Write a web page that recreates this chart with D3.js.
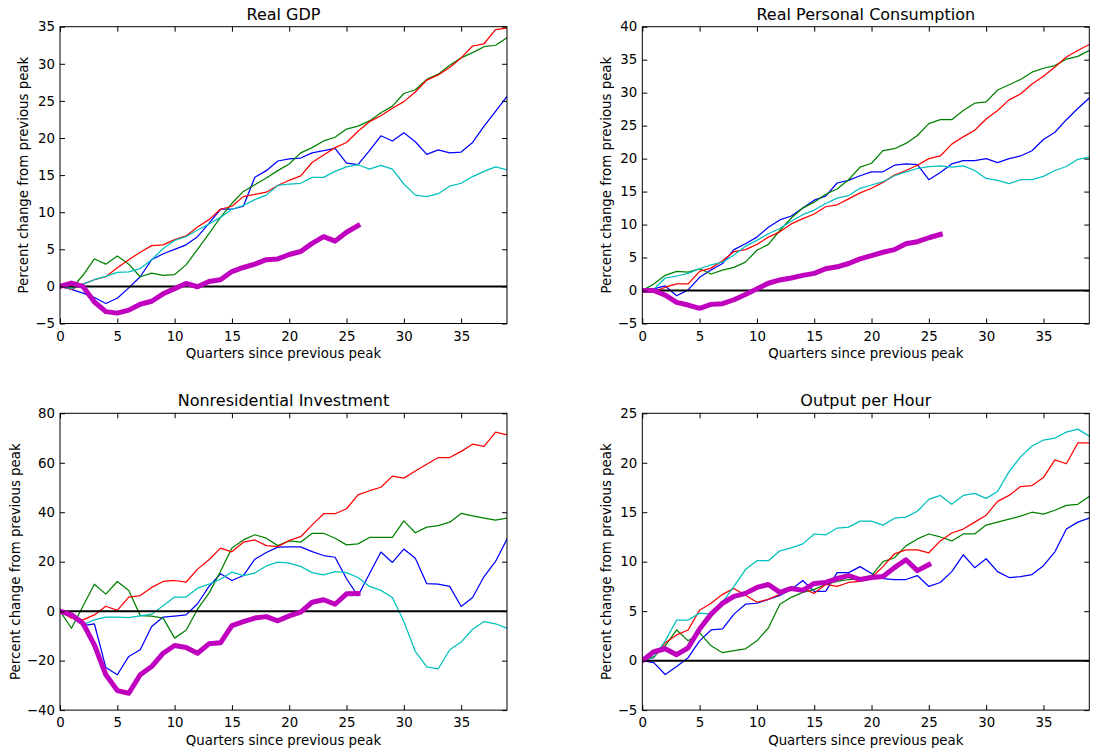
<!DOCTYPE html>
<html>
<head>
<meta charset="utf-8">
<script src="https://cdn.jsdelivr.net/npm/d3@7"></script>
<style>
  html, body { margin: 0; padding: 0; background: #fff; }
  svg { display: block; font-family: "DejaVu Sans", sans-serif; }
</style>
</head>
<body>
<svg id="chart" width="1094" height="754"></svg>
<script>
// ---- tick labels ----
const xTicks = [0, 5, 10, 15, 20, 25, 30, 35];
const gdpTicks = [-5, 0, 5, 10, 15, 20, 25, 30, 35];
const consTicks = [-5, 0, 5, 10, 15, 20, 25, 30, 35, 40];
const invTicks = [-40, -20, 0, 20, 40, 60, 80];
const prodTicks = [-5, 0, 5, 10, 15, 20, 25];

// ---- Real GDP (% change from previous peak, by quarter) ----
const gdpBlue = [0, -0.4, -0.9, -1.5, -2.3, -1.6, -0.2, 1.3, 3.6, 4.4, 5.0, 5.6, 6.7, 8.5, 10.4, 10.4, 10.8, 14.7, 15.6, 16.9, 17.2, 17.3, 18.0, 18.3, 18.6, 16.6, 16.4, 18.3, 20.3, 19.6, 20.7, 19.5, 17.8, 18.4, 18.0, 18.1, 19.4, 21.6, 23.6, 25.6];
const gdpGreen = [0, -0.3, 1.5, 3.7, 3.0, 4.1, 3.0, 1.3, 1.8, 1.5, 1.6, 2.9, 5.0, 7.1, 9.3, 11.2, 12.8, 13.7, 14.6, 15.6, 16.5, 18.0, 18.7, 19.6, 20.1, 21.2, 21.6, 22.3, 23.4, 24.3, 26.0, 26.5, 27.9, 28.6, 29.8, 30.8, 31.5, 32.3, 32.5, 33.5];
const gdpRed = [0, -0.4, 0.3, 0.9, 1.3, 2.5, 3.6, 4.6, 5.5, 5.6, 6.3, 6.8, 8.0, 9.0, 10.4, 10.8, 12.1, 12.4, 12.7, 13.6, 14.3, 14.9, 16.7, 17.7, 18.7, 19.4, 20.9, 22.2, 23.0, 24.0, 24.9, 26.2, 27.8, 28.5, 29.5, 30.8, 32.4, 32.7, 34.6, 34.8];
const gdpCyan = [0, -0.3, 0.3, 0.9, 1.35, 1.9, 1.95, 2.4, 3.6, 5.1, 6.2, 6.7, 7.6, 8.4, 9.3, 10.4, 10.9, 11.7, 12.3, 13.6, 13.8, 13.9, 14.7, 14.7, 15.5, 16.1, 16.4, 15.8, 16.3, 15.8, 13.8, 12.3, 12.1, 12.5, 13.5, 13.9, 14.8, 15.5, 16.1, 15.7];
const gdpMagenta = [0, 0.45, 0, -2.1, -3.4, -3.6, -3.2, -2.4, -2.0, -1.0, -0.3, 0.4, -0.05, 0.65, 0.9, 2.0, 2.55, 3.0, 3.6, 3.7, 4.3, 4.7, 5.8, 6.7, 6.1, 7.3, 8.2];

// ---- Real Personal Consumption ----
const consBlue = [0, 0.25, 0.7, -0.8, 0.1, 2.0, 3.1, 4.1, 6.2, 7.1, 8.1, 9.6, 10.7, 11.3, 12.5, 13.7, 14.3, 16.3, 16.7, 17.4, 18.0, 18.0, 19.0, 19.2, 19.1, 16.8, 17.9, 19.2, 19.7, 19.7, 20.0, 19.4, 20.0, 20.4, 21.2, 22.9, 24.0, 25.9, 27.6, 29.2];
const consGreen = [0, 1.0, 2.3, 2.9, 2.8, 3.3, 2.5, 3.1, 3.5, 4.3, 6.1, 7.0, 9.1, 11.0, 12.5, 13.4, 14.6, 15.4, 16.8, 18.7, 19.3, 21.2, 21.5, 22.3, 23.5, 25.3, 25.9, 25.9, 27.3, 28.4, 28.6, 30.4, 31.2, 32.0, 33.1, 33.7, 34.1, 35.1, 35.5, 36.4];
const consRed = [0, -0.2, 0.5, 1.0, 1.0, 2.9, 3.4, 4.5, 5.9, 6.2, 7.0, 8.1, 8.9, 10.1, 10.9, 11.6, 12.7, 13.0, 13.9, 14.8, 15.5, 16.4, 17.5, 18.2, 19.0, 20.0, 20.4, 22.2, 23.3, 24.3, 26.0, 27.3, 28.9, 29.8, 31.3, 32.5, 33.9, 35.4, 36.4, 37.3];
const consCyan = [0, 0.2, 1.9, 2.2, 2.6, 3.3, 3.9, 4.3, 5.4, 6.7, 7.6, 8.6, 9.4, 10.5, 11.5, 12.2, 13.2, 14.0, 14.4, 15.5, 16.0, 16.5, 17.4, 18.0, 18.5, 18.8, 18.9, 18.7, 18.9, 18.2, 17.0, 16.7, 16.2, 16.8, 16.8, 17.3, 18.2, 18.8, 19.9, 20.2];
const consMagenta = [0, 0, -0.7, -1.8, -2.2, -2.7, -2.1, -2.0, -1.4, -0.6, 0.25, 1.1, 1.6, 1.9, 2.3, 2.6, 3.3, 3.6, 4.1, 4.8, 5.3, 5.8, 6.2, 7.1, 7.4, 8.0, 8.5];

// ---- Nonresidential Investment ----
const invBlue = [0, -1.2, -5.8, -5.1, -22.8, -25.7, -18.3, -15.6, -6.2, -2.4, -2.0, -1.5, 3.0, 10.0, 15.1, 12.4, 14.4, 21.0, 23.7, 25.9, 26.0, 26.0, 24.1, 22.5, 21.8, 13.1, 6.2, 15.1, 23.9, 19.7, 25.1, 21.4, 11.1, 10.9, 10.0, 1.9, 5.5, 14.0, 20.1, 29.1];
const invGreen = [0, -6.9, 2.0, 10.9, 6.9, 12.0, 8.4, -1.8, -2.0, -2.8, -10.9, -7.7, 0.8, 7.3, 16.0, 25.5, 28.8, 30.9, 29.5, 26.5, 28.4, 27.9, 31.5, 31.5, 29.5, 26.8, 27.2, 29.8, 29.8, 29.8, 36.5, 31.7, 34.0, 34.6, 36.0, 39.5, 38.5, 37.6, 36.8, 37.6];
const invRed = [0, -2.8, -3.5, -1.5, 2.0, 0.3, 5.7, 6.3, 9.6, 12.0, 12.4, 11.7, 17.0, 20.8, 25.5, 24.0, 27.9, 28.8, 26.5, 26.1, 28.6, 30.1, 34.9, 39.4, 39.4, 41.4, 47.0, 48.7, 50.1, 54.6, 53.8, 56.7, 59.4, 62.1, 62.1, 64.6, 67.5, 66.6, 72.4, 71.3];
const invCyan = [0, -1.5, -5.5, -3.5, -2.4, -2.4, -2.6, -1.9, -1.2, 2.2, 5.7, 5.7, 9.3, 10.9, 12.9, 15.8, 14.4, 15.4, 18.3, 19.8, 19.4, 18.1, 15.6, 14.7, 16.0, 15.6, 13.6, 10.0, 8.4, 5.5, -4.2, -16.3, -22.5, -23.3, -15.6, -12.5, -7.3, -4.2, -5.1, -6.9];
const invMagenta = [0, -1.5, -4.9, -13.6, -25.7, -32.1, -33.2, -25.7, -22.4, -17.0, -13.9, -14.7, -17.0, -13.2, -12.8, -5.8, -4.2, -2.8, -2.2, -3.9, -1.9, -0.4, 3.6, 4.6, 2.8, 7.0, 7.1];

// ---- Output per Hour ----
const prodBlue = [0, -0.2, -1.4, -0.6, 0.3, 2.0, 3.1, 3.2, 4.7, 5.7, 5.8, 6.2, 6.6, 7.2, 8.1, 7.0, 7.0, 8.9, 8.9, 9.5, 8.8, 8.3, 8.2, 8.2, 8.6, 7.5, 7.9, 9.0, 10.7, 9.4, 10.3, 9.0, 8.4, 8.5, 8.7, 9.6, 11.0, 13.3, 14.0, 14.4];
const prodGreen = [0, 0.4, 1.5, 3.1, 2.0, 2.8, 1.5, 0.8, 1.0, 1.2, 2.0, 3.3, 5.7, 6.4, 6.9, 7.2, 7.7, 8.0, 8.2, 8.3, 8.6, 10.0, 10.4, 11.6, 12.3, 12.8, 12.5, 12.1, 12.8, 12.8, 13.7, 14.0, 14.3, 14.6, 15.0, 14.8, 15.2, 15.7, 15.8, 16.6];
const prodRed = [0, 0.3, 1.8, 2.6, 3.1, 5.1, 5.8, 6.7, 7.3, 6.6, 5.9, 6.2, 6.7, 7.2, 7.3, 6.8, 7.7, 7.5, 7.9, 8.0, 8.4, 9.5, 10.8, 11.2, 11.2, 10.9, 12.1, 12.9, 13.3, 14.0, 14.7, 16.1, 16.7, 17.6, 17.7, 18.5, 20.3, 19.9, 22.0, 22.0];
const prodCyan = [0, 0.3, 2.0, 4.1, 4.1, 4.8, 4.7, 5.9, 7.5, 9.2, 10.1, 10.1, 11.1, 11.4, 11.8, 12.8, 12.7, 13.4, 13.5, 14.1, 14.1, 13.7, 14.4, 14.5, 15.1, 16.3, 16.7, 15.8, 16.7, 16.9, 16.4, 17.1, 19.1, 20.6, 21.7, 22.3, 22.5, 23.1, 23.4, 22.7];
const prodMagenta = [0, 0.9, 1.2, 0.6, 1.3, 3.2, 4.7, 5.8, 6.5, 6.8, 7.4, 7.7, 6.9, 7.3, 7.1, 7.8, 7.9, 8.3, 8.6, 8.2, 8.4, 8.5, 9.4, 10.2, 9.1, 9.7];

// ---- styling ----
const lineColors = ["#0000ff", "#008000", "#ff0000", "#00bfbf", "#bf00bf"];
const lineWidths = [1.25, 1.25, 1.25, 1.25, 5];
const FONT = "'DejaVu Sans', sans-serif";
const TICK_FS = 13.33, LABEL_FS = 13.33, TITLE_FS = 16;
const PW = 447, PH = 296.8;

const panels = [
  { title: "Real GDP", left: 60, top: 26.7, domain: [-5, 35], ticks: gdpTicks,
    series: [gdpBlue, gdpGreen, gdpRed, gdpCyan, gdpMagenta] },
  { title: "Real Personal Consumption", left: 642.3, top: 26.7, domain: [-5, 40], ticks: consTicks,
    series: [consBlue, consGreen, consRed, consCyan, consMagenta] },
  { title: "Nonresidential Investment", left: 60, top: 413.3, domain: [-40, 80], ticks: invTicks,
    series: [invBlue, invGreen, invRed, invCyan, invMagenta] },
  { title: "Output per Hour", left: 642.3, top: 413.3, domain: [-5, 25], ticks: prodTicks,
    series: [prodBlue, prodGreen, prodRed, prodCyan, prodMagenta] }
];

const svg = d3.select("#chart");
svg.append("rect").attr("width", 1094).attr("height", 754).attr("fill", "#fff");

panels.forEach((p, pi) => {
  const g = svg.append("g").attr("transform", `translate(${p.left},${p.top})`);
  const x = d3.scaleLinear().domain([0, 39]).range([0, PW]);
  const y = d3.scaleLinear().domain(p.domain).range([PH, 0]);

  const clipId = "clip" + pi;
  g.append("clipPath").attr("id", clipId)
    .append("rect").attr("width", PW).attr("height", PH);

  const plot = g.append("g").attr("clip-path", `url(#${clipId})`);
  const line = d3.line().x((d, i) => x(i)).y(d => y(d));

  // earlier cycles first, current cycle (thick) on top
  p.series.forEach((s, si) => {
    if (si === 4) return;
    plot.append("path").datum(s)
      .attr("d", line)
      .attr("fill", "none")
      .attr("stroke", lineColors[si])
      .attr("stroke-width", lineWidths[si])
      .attr("stroke-linejoin", "round")
      .attr("stroke-linecap", "square");
  });

  // zero reference line
  plot.append("line")
    .attr("x1", x(0)).attr("x2", x(39))
    .attr("y1", y(0)).attr("y2", y(0))
    .attr("stroke", "#000").attr("stroke-width", 2);

  plot.append("path").datum(p.series[4])
    .attr("d", line)
    .attr("fill", "none")
    .attr("stroke", lineColors[4])
    .attr("stroke-width", lineWidths[4])
    .attr("stroke-linejoin", "round")
    .attr("stroke-linecap", "square");

  const styleAxis = sel => {
    sel.select(".domain").remove();
    sel.attr("font-size", TICK_FS).attr("font-family", FONT);
    sel.selectAll(".tick line").attr("stroke", "#000").attr("stroke-width", 1);
    sel.selectAll(".tick text").attr("fill", "#000");
  };

  g.append("g").attr("transform", `translate(0,${PH})`)
    .call(d3.axisBottom(x).tickValues(xTicks).tickSize(-5).tickPadding(7.6).tickFormat(d3.format("d")))
    .call(styleAxis);
  g.append("g")
    .call(d3.axisTop(x).tickValues(xTicks).tickSize(-5).tickFormat(""))
    .call(styleAxis);
  const yAxisG = g.append("g")
    .call(d3.axisLeft(y).tickValues(p.ticks).tickSize(-5).tickPadding(5).tickFormat(d3.format("d")))
    .call(styleAxis);
  g.append("g").attr("transform", `translate(${PW},0)`)
    .call(d3.axisRight(y).tickValues(p.ticks).tickSize(-5).tickFormat(""))
    .call(styleAxis);

  // frame
  g.append("rect").attr("width", PW).attr("height", PH)
    .attr("fill", "none").attr("stroke", "#000").attr("stroke-width", 1);

  // title
  g.append("text").attr("x", PW / 2).attr("y", -7)
    .attr("text-anchor", "middle").attr("font-size", TITLE_FS).attr("font-family", FONT)
    .text(p.title);

  // x label
  g.append("text").attr("x", PW / 2).attr("y", PH + 35)
    .attr("text-anchor", "middle").attr("font-size", LABEL_FS).attr("font-family", FONT)
    .text("Quarters since previous peak");

  // y label, placed just left of the widest tick label
  let maxW = 0;
  yAxisG.selectAll(".tick text").each(function () {
    maxW = Math.max(maxW, this.getComputedTextLength());
  });
  const bx = -5 - maxW - 7;
  g.append("text")
    .attr("transform", `translate(${bx},${PH / 2}) rotate(-90)`)
    .attr("text-anchor", "middle").attr("font-size", LABEL_FS).attr("font-family", FONT)
    .text("Percent change from previous peak");
});
</script>
</body>
</html>
